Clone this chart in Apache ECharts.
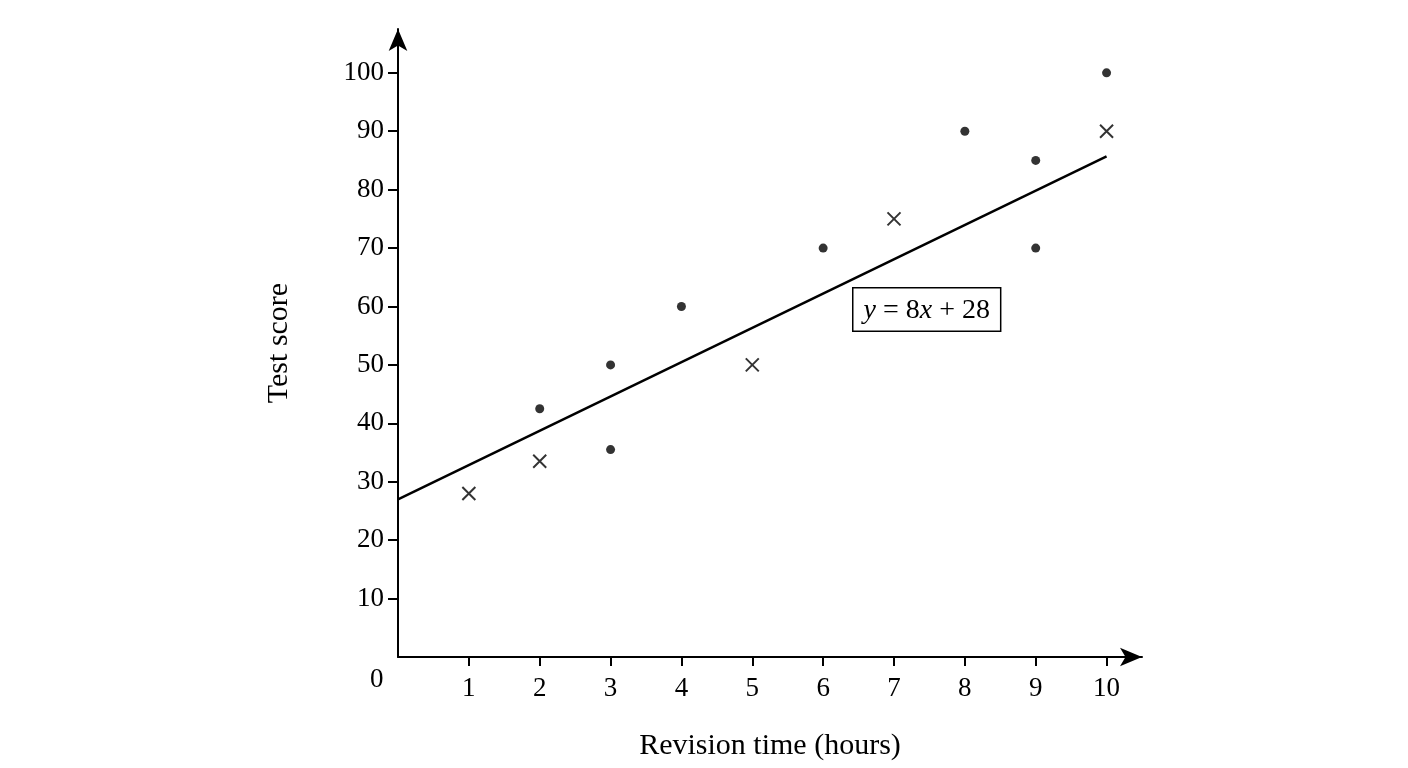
<!DOCTYPE html>
<html><head><meta charset="utf-8">
<script src="https://cdn.jsdelivr.net/npm/echarts@6/dist/echarts.min.js"></script>
<style>html,body{margin:0;background:#fff}#c{width:1408px;height:768px}</style>
</head><body><div id="c"></div>
<script>
const xTicks = [1, 2, 3, 4, 5, 6, 7, 8, 9, 10];
const yTicks = [10, 20, 30, 40, 50, 60, 70, 80, 90, 100];
const dots = [[2, 42.5], [3, 50], [3, 35.5], [4, 60], [6, 70], [8, 90], [9, 85], [9, 70], [10, 100]];
const crosses = [[1, 28], [2, 33.5], [5, 50], [7, 75], [10, 90]];
const fitLine = [[0, 27], [10, 85.7]];

const font = 'Liberation Serif';
const chart = echarts.init(document.getElementById('c'));
chart.setOption({
  backgroundColor: '#fff',
  animation: false,
  grid: { left: 398, top: 29, width: 744, height: 628 },
  xAxis: {
    type: 'value', min: 0, max: 10.5,
    name: 'Revision time (hours)', nameLocation: 'middle', nameGap: 74,
    nameTextStyle: { fontFamily: font, fontSize: 30, color: '#000' },
    splitLine: { show: false },
    axisLine: { lineStyle: { color: '#000', width: 2 }, symbol: ['none', 'arrow'], symbolSize: [14, 22] },
    axisTick: { customValues: xTicks, length: 9, inside: false, lineStyle: { color: '#000', width: 2 } },
    axisLabel: { customValues: xTicks, fontFamily: font, fontSize: 27, color: '#000', margin: 18 }
  },
  yAxis: {
    type: 'value', min: 0, max: 107.5,
    name: 'Test score', nameLocation: 'middle', nameGap: 104,
    nameTextStyle: { fontFamily: font, fontSize: 30, color: '#000' },
    splitLine: { show: false },
    axisLine: { lineStyle: { color: '#000', width: 2 }, symbol: ['none', 'arrow'], symbolSize: [14, 22] },
    axisTick: { customValues: yTicks, length: 10, lineStyle: { color: '#000', width: 2 } },
    axisLabel: { customValues: yTicks, fontFamily: font, fontSize: 27, color: '#000', margin: 14 }
  },
  graphic: [
    { type: 'text', left: 370, top: 666, style: { text: '0', font: '27px "Liberation Serif"', fill: '#000' } },
    { type: 'line', shape: { x1: 466, y1: 657, x2: 466, y2: 648 }, style: { stroke: 'none' } },
    {
      type: 'text', left: 852, top: 287,
      style: {
        text: '{i|y} = 8{i|x} + 28',
        font: '28px "Liberation Serif"', fill: '#000',
        rich: { i: { fontStyle: 'italic', fontFamily: font, fontSize: 28 } },
        backgroundColor: '#fff', borderColor: '#000', borderWidth: 1.5,
        padding: [8, 10, 6, 10]
      }
    }
  ],
  series: [
    {
      type: 'line', data: fitLine, symbol: 'none',
      lineStyle: { color: '#000', width: 2.5 }, z: 1
    },
    {
      type: 'scatter', data: dots, symbol: 'circle', symbolSize: 9,
      itemStyle: { color: '#000' }
    },
    {
      type: 'scatter', data: crosses, symbol: 'path://M0,0L10,10M10,0L0,10', symbolSize: 13,
      itemStyle: { color: 'none', borderColor: '#000', borderWidth: 2 }
    }
  ]
});
</script></body></html>
